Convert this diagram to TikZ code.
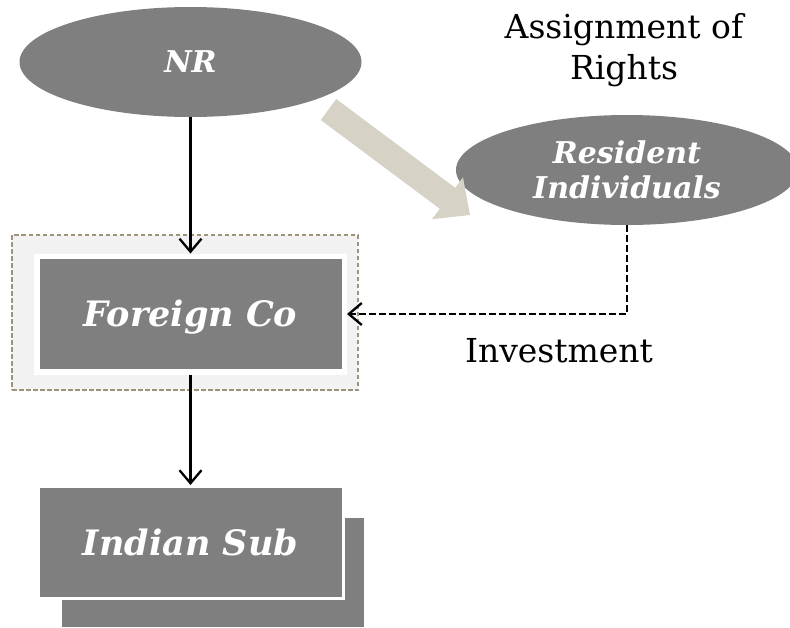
\documentclass[tikz,border=0pt]{standalone}
\usepackage{fontspec}
\setmainfont{DejaVu Serif}
\usetikzlibrary{arrows.meta,shapes.geometric}
\definecolor{shapegray}{HTML}{7F7F7F}
\definecolor{beige}{HTML}{D6D3C6}
\definecolor{framebrown}{HTML}{9E9478}
\definecolor{panel}{HTML}{F2F2F2}
\begin{document}
\begin{tikzpicture}[x=1pt,y=-1pt,
  oval/.style={ellipse, fill=shapegray, minimum width=342pt, minimum height=110pt,
    inner sep=0pt, text=white, align=center,
    font=\bfseries\itshape\fontsize{30}{35}\selectfont},
  entity/.style={rectangle, fill=shapegray, inner sep=0pt, text=white,
    minimum width=302pt, minimum height=109pt,
    font=\bfseries\itshape\fontsize{35}{42}\selectfont,
    text height=25.5pt, text depth=0pt},
  flow/.style={line width=2.3pt, -{Straight Barb[length=13pt,width=22pt]}},
  caption/.style={font=\fontsize{33}{41}\selectfont, align=center, inner sep=0pt}
]
\useasboundingbox (0,0) rectangle (790,627);
\begin{scope}
  \clip (0,0) rectangle (790,627);
  % the two parties
  \node[oval, text height=21pt, text depth=0pt] (nr) at (190.5,62) {NR};
  \node[oval] (res) at (627,170) {Resident\\Individuals};
\end{scope}

% highlighted holding company
\node[draw=framebrown, dashed, dash pattern=on 4.5pt off 2.5pt, line width=1.3pt,
  fill=panel, minimum width=346pt, minimum height=155pt] (frame) at (185,312.5) {};
\node[entity, draw=white, line width=5.5pt, minimum width=307.5pt, minimum height=115.5pt]
  (fc) at (190.5,314) {Foreign Co};

% subsidiary with its shadow sheet
\node[entity] (subback) at (212.5,572.5) {};
\node[entity, draw=white, line width=3pt, minimum width=305pt, minimum height=112pt]
  (sub) at (190.5,542.5) {Indian Sub};

% block arrow: assignment of rights
\fill[beige] (320.8,120.0) -- (439.8,208.8) -- (432.0,219.2) -- (470.0,215.0)
  -- (463.0,177.4) -- (455.2,187.8) -- (336.2,99.0) -- cycle;

% ownership and investment links
\draw[flow] (nr) -- (fc);
\draw[flow] (fc) -- (sub);
\draw[flow, dash pattern=on 6.5pt off 3.5pt] (res.south) |- (fc.east);

% captions
\node[caption] (assign) at (624,50) {Assignment of\\Rights};
\node[caption, anchor=base] (invest) at (559,362) {Investment};
\end{tikzpicture}
\end{document}
